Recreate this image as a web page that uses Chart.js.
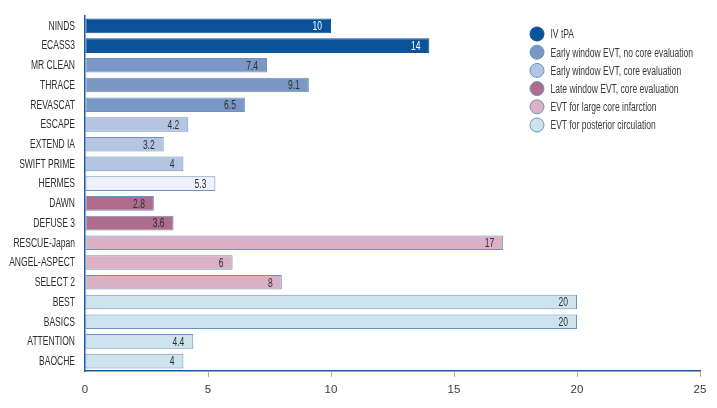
<!DOCTYPE html>
<html>
<head>
<meta charset="utf-8">
<script src="https://cdn.jsdelivr.net/npm/chart.js@4"></script>
<style>
  html, body { margin: 0; padding: 0; background: #fff; }
  #wrap { width: 717px; height: 408px; }
</style>
</head>
<body>
<div id="wrap"><canvas id="grafico"></canvas></div>
<script>
const estudos = ['NINDS', 'ECASS3', 'MR CLEAN', 'THRACE', 'REVASCAT', 'ESCAPE', 'EXTEND IA', 'SWIFT PRIME',
    'HERMES', 'DAWN', 'DEFUSE 3', 'RESCUE-Japan', 'ANGEL-ASPECT', 'SELECT 2', 'BEST', 'BASICS', 'ATTENTION', 'BAOCHE'];
const valores = [10, 14, 7.4, 9.1, 6.5, 4.2, 3.2, 4, 5.3, 2.8, 3.6, 17, 6, 8, 20, 20, 4.4, 4];
// grupo de cada estudo (indice em grupos / cores), 6 = meta-analise HERMES
const grupo_estudo = [0, 0, 1, 1, 1, 2, 2, 2, 6, 3, 3, 4, 4, 4, 5, 5, 5, 5];
const grupos = ['IV tPA', 'Early window EVT, no core evaluation', 'Early window EVT, core evaluation',
    'Late window EVT, core evaluation', 'EVT for large core infarction', 'EVT for posterior circulation'];
const ticks_x = [0, 5, 10, 15, 20, 25];

const cores = ['#0a5398', '#7a97c6', '#b3c5e3', '#b06c8c', '#dbb1c5', '#cee4ec', '#eef2fa'];
const borda = '#6e91c3';
const fonte = "'Liberation Sans', Arial, sans-serif";
const aperto = 0.71; // fonte condensada: escala horizontal

// escreve texto "condensado"
function texto(ctx, str, x, y, align) {
    ctx.save();
    ctx.translate(x, y);
    ctx.scale(aperto, 1);
    ctx.textAlign = align;
    ctx.fillText(str, 0, 0);
    ctx.restore();
}

const rotulos = {
    id: 'rotulos',
    afterDatasetsDraw(chart) {
        const ctx = chart.ctx;
        const meta = chart.getDatasetMeta(0);
        const eixo_y = chart.scales.y;
        ctx.save();
        ctx.font = '12px ' + fonte;
        ctx.textBaseline = 'middle';
        meta.data.forEach((bar, i) => {
            ctx.fillStyle = grupo_estudo[i] === 0 ? '#ffffff' : '#2e2e2e';
            texto(ctx, String(valores[i]), bar.x - 9, bar.y + 1, 'right');
        });
        ctx.fillStyle = '#2e2e2e';
        estudos.forEach((nome, i) => {
            texto(ctx, nome, 75, eixo_y.getPixelForTick(i) + 0.5, 'right');
        });
        ctx.restore();
    }
};

const legenda = {
    id: 'legenda',
    afterDraw(chart) {
        const ctx = chart.ctx;
        ctx.save();
        ctx.font = '12px ' + fonte;
        ctx.textBaseline = 'middle';
        grupos.forEach((nome, i) => {
            const y = 34 + i * 18.2;
            ctx.beginPath();
            ctx.arc(537, y, 7, 0, Math.PI * 2);
            ctx.fillStyle = cores[i];
            ctx.fill();
            ctx.lineWidth = 1;
            ctx.strokeStyle = i === 0 ? cores[0] : borda;
            ctx.stroke();
            ctx.fillStyle = '#3a3a3a';
            texto(ctx, nome, 550.5, y + 1, 'left');
        });
        ctx.restore();
    }
};

new Chart(document.getElementById('grafico'), {
    type: 'bar',
    data: {
        labels: estudos,
        datasets: [{
            data: valores,
            backgroundColor: grupo_estudo.map(g => cores[g]),
            borderColor: grupo_estudo.map(g => g === 0 ? cores[0] : borda),
            borderWidth: 1,
            borderSkipped: false,
            barPercentage: 0.74,
            categoryPercentage: 1
        }]
    },
    options: {
        indexAxis: 'y',
        responsive: true,
        maintainAspectRatio: false,
        animation: false,
        layout: { padding: { top: 16, right: 17, left: 0, bottom: 0 } },
        plugins: { legend: { display: false }, tooltip: { enabled: false } },
        scales: {
            x: {
                min: 0,
                max: 25,
                afterBuildTicks: (scale) => { scale.ticks = ticks_x.map(v => ({ value: v })); },
                afterFit: (scale) => { scale.height = 37; },
                border: { display: true, color: '#1a5a9e', width: 1.5 },
                grid: {
                    drawOnChartArea: false,
                    drawTicks: true,
                    tickLength: 6,
                    color: (c) => c.index === 0 ? 'rgba(0,0,0,0)' : '#b0b0b0'
                },
                ticks: { color: '#3a3a3a', padding: 6, font: { family: fonte, size: 11.5 } }
            },
            y: {
                afterFit: (scale) => { scale.width = 85; },
                border: { display: true, color: '#1a5a9e', width: 1.5 },
                grid: { display: false, drawTicks: false },
                ticks: { display: false }
            }
        }
    },
    plugins: [rotulos, legenda]
});
</script>
</body>
</html>
